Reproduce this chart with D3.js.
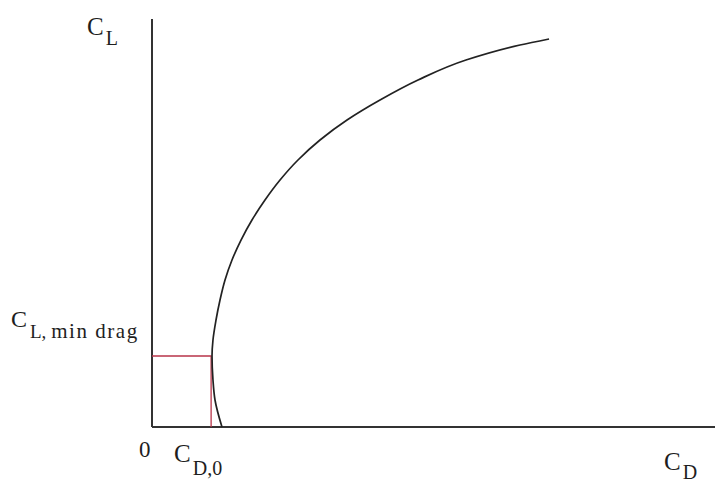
<!DOCTYPE html>
<html><head><meta charset="utf-8">
<script src="https://cdn.jsdelivr.net/npm/d3@7"></script>
<style>body{margin:0;background:#fff}svg{display:block}text{font-family:"Liberation Serif","Times New Roman",serif;fill:#1e1e1e}</style>
</head><body>
<svg id="c" width="715" height="483"></svg>
<script>
// Drag polar (CD, CL)
const dragCD = [0.01243,0.01119,0.01083,0.01066,0.01083,0.01137,0.01208,0.01297,0.01421,0.01581,0.01776,0.02007,0.02274,0.02593,0.02984,0.03464,0.04050,0.04725,0.05577,0.06536,0.07052];
const dragCL = [0.0000,0.1059,0.1843,0.2784,0.3412,0.4196,0.4980,0.5765,0.6549,0.7333,0.8118,0.8902,0.9686,1.0471,1.1255,1.2039,1.2824,1.3608,1.4392,1.4980,1.5216];
const cd0 = 0.0105;
const clMinDrag = 0.2784;
const xTickLabels = ["0"];

const svg = d3.select("#c");
const x = d3.scaleLinear().domain([0, 0.1]).range([152, 715]);
const y = d3.scaleLinear().domain([0, 1.6]).range([427, 19]);

// axes
svg.append("line").attr("x1", x(0)).attr("x2", x(0)).attr("y1", y(0)).attr("y2", y(1.6))
  .attr("stroke", "#333").attr("stroke-width", 2);
svg.append("line").attr("x1", x(0)).attr("x2", x(0.1)).attr("y1", y(0)).attr("y2", y(0))
  .attr("stroke", "#333").attr("stroke-width", 2);

// red guide lines
svg.append("path")
  .attr("d", d3.line()([[x(0), y(clMinDrag)], [x(cd0), y(clMinDrag)], [x(cd0), y(0)]]))
  .attr("fill", "none").attr("stroke", "#b8354a").attr("stroke-width", 1.3);

// drag polar
const pts = dragCD.map((d, i) => [d, dragCL[i]]);
svg.append("path").datum(pts)
  .attr("d", d3.line().x(d => x(d[0])).y(d => y(d[1])).curve(d3.curveMonotoneY))
  .attr("fill", "none").attr("stroke", "#222").attr("stroke-width", 1.7);

// labels
function sub(xp, yp, main, s, mainSize, subSize, dy) {
  const t = svg.append("text").attr("x", xp).attr("y", yp);
  t.append("tspan").attr("font-size", mainSize).text(main);
  t.append("tspan").attr("font-size", subSize).attr("dy", dy).attr("dx", 2).text(s);
  return t;
}
sub(87, 35, "C", "L", 25, 20, 10);
const t2 = svg.append("text").attr("x", 11).attr("y", 327);
t2.append("tspan").attr("font-size", 24).text("C");
t2.append("tspan").attr("font-size", 19).attr("dy", 11).attr("dx", 3).text("L, ");
t2.append("tspan").attr("font-size", 21).attr("textLength", 86).text("min drag");
svg.append("text").attr("x", x(0) - 13).attr("y", 457).attr("font-size", 23).text(xTickLabels[0]);
sub(174, 462, "C", "D,0", 25, 20, 13);
sub(664, 470, "C", "D", 25, 20, 9);
</script>
</body></html>
